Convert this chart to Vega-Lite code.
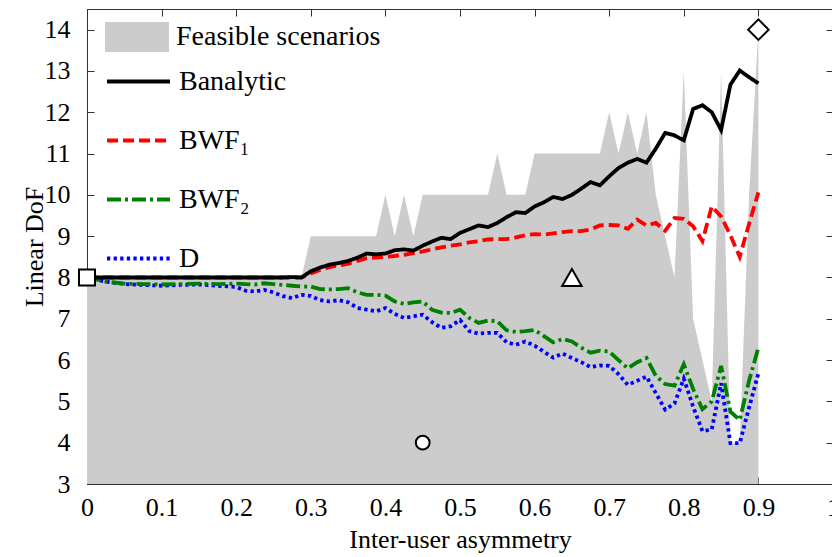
{
  "$schema": "https://vega.github.io/schema/vega-lite/v6.json",
  "width": 746,
  "height": 475,
  "autosize": {"type": "none"},
  "padding": {"left": 87, "top": 9, "right": 0, "bottom": 73},
  "background": "white",
  "datasets": {
    "feasible": [
      {"x": 0, "upper": 8}, {"x": 0.2875, "upper": 8}, {"x": 0.3, "upper": 9}, {"x": 0.3875, "upper": 9},
      {"x": 0.4, "upper": 10}, {"x": 0.4125, "upper": 9}, {"x": 0.425, "upper": 10}, {"x": 0.4375, "upper": 9},
      {"x": 0.45, "upper": 10}, {"x": 0.5375, "upper": 10}, {"x": 0.55, "upper": 11}, {"x": 0.5625, "upper": 10},
      {"x": 0.5875, "upper": 10}, {"x": 0.6, "upper": 11}, {"x": 0.6875, "upper": 11}, {"x": 0.7, "upper": 12},
      {"x": 0.7125, "upper": 11}, {"x": 0.725, "upper": 12}, {"x": 0.7375, "upper": 11}, {"x": 0.75, "upper": 12},
      {"x": 0.7625, "upper": 10}, {"x": 0.775, "upper": 9}, {"x": 0.7875, "upper": 8}, {"x": 0.8, "upper": 13},
      {"x": 0.8125, "upper": 7}, {"x": 0.825, "upper": 6}, {"x": 0.8375, "upper": 5}, {"x": 0.85, "upper": 13},
      {"x": 0.8625, "upper": 4}, {"x": 0.875, "upper": 4}, {"x": 0.8875, "upper": 10}, {"x": 0.9, "upper": 14}
    ],
    "curves": [
      {"x": 0, "Ba": 8, "W1": 8, "W2": 8.0, "D": 8.0},
      {"x": 0.025, "Ba": 8, "W1": 8, "W2": 7.9, "D": 7.9},
      {"x": 0.05, "Ba": 8, "W1": 8, "W2": 7.85, "D": 7.84},
      {"x": 0.075, "Ba": 8, "W1": 8, "W2": 7.84, "D": 7.82},
      {"x": 0.1, "Ba": 8, "W1": 8, "W2": 7.83, "D": 7.8},
      {"x": 0.125, "Ba": 8, "W1": 8, "W2": 7.84, "D": 7.82},
      {"x": 0.15, "Ba": 8, "W1": 8, "W2": 7.85, "D": 7.83},
      {"x": 0.175, "Ba": 8, "W1": 8, "W2": 7.84, "D": 7.8},
      {"x": 0.2, "Ba": 8, "W1": 8, "W2": 7.85, "D": 7.77},
      {"x": 0.2125, "Ba": 8, "W1": 8, "W2": 7.84, "D": 7.68},
      {"x": 0.225, "Ba": 8, "W1": 8, "W2": 7.83, "D": 7.66},
      {"x": 0.2375, "Ba": 8, "W1": 8, "W2": 7.86, "D": 7.7},
      {"x": 0.25, "Ba": 8, "W1": 8, "W2": 7.84, "D": 7.64},
      {"x": 0.2625, "Ba": 8, "W1": 8, "W2": 7.82, "D": 7.55},
      {"x": 0.275, "Ba": 8.01, "W1": 8, "W2": 7.8, "D": 7.5},
      {"x": 0.2875, "Ba": 8.0, "W1": 8.0, "W2": 7.78, "D": 7.58},
      {"x": 0.3, "Ba": 8.15, "W1": 8.1, "W2": 7.78, "D": 7.55},
      {"x": 0.3125, "Ba": 8.24, "W1": 8.18, "W2": 7.72, "D": 7.45},
      {"x": 0.325, "Ba": 8.31, "W1": 8.25, "W2": 7.71, "D": 7.42},
      {"x": 0.3375, "Ba": 8.35, "W1": 8.29, "W2": 7.72, "D": 7.45},
      {"x": 0.35, "Ba": 8.4, "W1": 8.33, "W2": 7.74, "D": 7.4},
      {"x": 0.3625, "Ba": 8.48, "W1": 8.4, "W2": 7.64, "D": 7.26},
      {"x": 0.375, "Ba": 8.58, "W1": 8.47, "W2": 7.58, "D": 7.22},
      {"x": 0.3875, "Ba": 8.56, "W1": 8.48, "W2": 7.58, "D": 7.18},
      {"x": 0.4, "Ba": 8.58, "W1": 8.5, "W2": 7.56, "D": 7.26},
      {"x": 0.4125, "Ba": 8.66, "W1": 8.52, "W2": 7.42, "D": 7.12},
      {"x": 0.425, "Ba": 8.68, "W1": 8.55, "W2": 7.36, "D": 7.02},
      {"x": 0.4375, "Ba": 8.65, "W1": 8.59, "W2": 7.4, "D": 7.06},
      {"x": 0.45, "Ba": 8.77, "W1": 8.63, "W2": 7.42, "D": 7.1},
      {"x": 0.4625, "Ba": 8.87, "W1": 8.68, "W2": 7.22, "D": 6.92},
      {"x": 0.475, "Ba": 8.96, "W1": 8.73, "W2": 7.15, "D": 6.78},
      {"x": 0.4875, "Ba": 8.93, "W1": 8.77, "W2": 7.14, "D": 6.82},
      {"x": 0.5, "Ba": 9.08, "W1": 8.8, "W2": 7.22, "D": 6.97},
      {"x": 0.5125, "Ba": 9.17, "W1": 8.85, "W2": 7.02, "D": 6.7},
      {"x": 0.525, "Ba": 9.26, "W1": 8.88, "W2": 6.9, "D": 6.64},
      {"x": 0.5375, "Ba": 9.22, "W1": 8.92, "W2": 6.96, "D": 6.66},
      {"x": 0.55, "Ba": 9.32, "W1": 8.93, "W2": 6.94, "D": 6.66},
      {"x": 0.5625, "Ba": 9.46, "W1": 8.93, "W2": 6.72, "D": 6.43},
      {"x": 0.575, "Ba": 9.58, "W1": 8.97, "W2": 6.68, "D": 6.37},
      {"x": 0.5875, "Ba": 9.56, "W1": 9.02, "W2": 6.7, "D": 6.45},
      {"x": 0.6, "Ba": 9.72, "W1": 9.05, "W2": 6.73, "D": 6.35},
      {"x": 0.6125, "Ba": 9.82, "W1": 9.04, "W2": 6.58, "D": 6.2},
      {"x": 0.625, "Ba": 9.95, "W1": 9.07, "W2": 6.43, "D": 6.06},
      {"x": 0.6375, "Ba": 9.9, "W1": 9.1, "W2": 6.51, "D": 6.16},
      {"x": 0.65, "Ba": 10.0, "W1": 9.12, "W2": 6.45, "D": 6.05},
      {"x": 0.6625, "Ba": 10.15, "W1": 9.12, "W2": 6.3, "D": 5.95},
      {"x": 0.675, "Ba": 10.31, "W1": 9.16, "W2": 6.18, "D": 5.83},
      {"x": 0.6875, "Ba": 10.23, "W1": 9.26, "W2": 6.23, "D": 5.87},
      {"x": 0.7, "Ba": 10.45, "W1": 9.27, "W2": 6.21, "D": 5.86},
      {"x": 0.7125, "Ba": 10.65, "W1": 9.26, "W2": 6.0, "D": 5.66},
      {"x": 0.725, "Ba": 10.78, "W1": 9.18, "W2": 5.8, "D": 5.4},
      {"x": 0.7375, "Ba": 10.87, "W1": 9.4, "W2": 5.95, "D": 5.5},
      {"x": 0.75, "Ba": 10.78, "W1": 9.26, "W2": 6.05, "D": 5.6},
      {"x": 0.7625, "Ba": 11.12, "W1": 9.32, "W2": 5.62, "D": 5.2},
      {"x": 0.775, "Ba": 11.5, "W1": 9.13, "W2": 5.42, "D": 4.8},
      {"x": 0.7875, "Ba": 11.44, "W1": 9.44, "W2": 5.38, "D": 4.95},
      {"x": 0.8, "Ba": 11.32, "W1": 9.42, "W2": 5.9, "D": 5.55},
      {"x": 0.8125, "Ba": 12.08, "W1": 9.24, "W2": 5.3, "D": 4.87},
      {"x": 0.825, "Ba": 12.17, "W1": 8.88, "W2": 4.81, "D": 4.28},
      {"x": 0.8375, "Ba": 12.0, "W1": 9.72, "W2": 5.0, "D": 4.32},
      {"x": 0.85, "Ba": 11.57, "W1": 9.48, "W2": 5.86, "D": 5.44},
      {"x": 0.8625, "Ba": 12.67, "W1": 9.02, "W2": 4.75, "D": 3.99},
      {"x": 0.875, "Ba": 13.01, "W1": 8.5, "W2": 4.55, "D": 3.99},
      {"x": 0.8875, "Ba": 12.85, "W1": 9.3, "W2": 5.5, "D": 4.85},
      {"x": 0.9, "Ba": 12.7, "W1": 10.06, "W2": 6.3, "D": 5.68}
    ]
  },
  "layer": [
    {
      "data": {"name": "feasible"},
      "mark": {"type": "area", "interpolate": "linear", "opacity": 1},
      "encoding": {
        "x": {
          "field": "x", "type": "quantitative",
          "scale": {"domain": [0, 1], "nice": false, "zero": false},
          "axis": {"orient": "bottom", "title": "Inter-user asymmetry", "values": [0, 0.1, 0.2, 0.3, 0.4, 0.5, 0.6, 0.7, 0.8, 0.9, 1], "format": "~g", "labelPadding": 17, "titlePadding": 6}
        },
        "y": {
          "field": "upper", "type": "quantitative",
          "scale": {"domain": [3, 14.5], "nice": false, "zero": false},
          "axis": {"orient": "left", "title": "Linear DoF", "values": [3, 4, 5, 6, 7, 8, 9, 10, 11, 12, 13, 14], "labelPadding": 24, "titlePadding": -3}
        },
        "y2": {"datum": 3},
        "fill": {
          "datum": "Feasible scenarios",
          "scale": {"range": ["#cccccc"]},
          "legend": {
            "orient": "none", "legendX": 18, "legendY": -4, "title": null,
            "symbolType": "M-1,-0.47H1V0.47H-1Z", "symbolSize": 4096, "symbolStrokeWidth": 0,
            "symbolOpacity": 1, "labelOffset": 7, "padding": 0
          }
        }
      }
    },
    {
      "data": {"name": "curves"},
      "transform": [{"fold": ["D", "W2", "W1", "Ba"], "as": ["series", "value"]}],
      "mark": {"type": "line", "strokeWidth": 3.8, "strokeCap": "butt", "strokeJoin": "miter"},
      "encoding": {
        "x": {"field": "x", "type": "quantitative", "axis": {"orient": "top", "labels": false, "title": null, "values": [0, 0.1, 0.2, 0.3, 0.4, 0.5, 0.6, 0.7, 0.8, 0.9, 1]}},
        "y": {"field": "value", "type": "quantitative", "axis": {"orient": "right", "labels": false, "title": null, "values": [3, 4, 5, 6, 7, 8, 9, 10, 11, 12, 13, 14]}},
        "stroke": {
          "field": "series", "type": "nominal",
          "scale": {"domain": ["Ba", "W1", "W2", "D"], "range": ["#000000", "#ff0000", "#008000", "#0000ff"]},
          "legend": {
            "orient": "none", "legendX": 18, "legendY": 39, "title": null,
            "symbolType": "stroke", "symbolSize": 3969, "symbolStrokeWidth": 3.8,
            "rowPadding": 11, "labelOffset": 7, "padding": 0,
            "labelExpr": "datum.value == 'Ba' ? 'Banalytic' : datum.value == 'W1' ? 'BWF₁' : datum.value == 'W2' ? 'BWF₂' : 'D'"
          }
        },
        "strokeDash": {
          "field": "series", "type": "nominal",
          "scale": {"domain": ["Ba", "W1", "W2", "D"], "range": [[1, 0], [11, 5], [14, 4, 3, 4], [3.3, 3.3]]},
          "legend": {
            "orient": "none", "legendX": 18, "legendY": 39, "title": null,
            "symbolType": "stroke", "symbolSize": 3969, "symbolStrokeWidth": 3.8,
            "rowPadding": 11, "labelOffset": 7, "padding": 0,
            "labelExpr": "datum.value == 'Ba' ? 'Banalytic' : datum.value == 'W1' ? 'BWF₁' : datum.value == 'W2' ? 'BWF₂' : 'D'"
          }
        }
      }
    },
    {
      "data": {"values": [{"x": 0, "y": 8}]},
      "mark": {"type": "point", "shape": "square", "size": 256, "filled": true, "fill": "white", "stroke": "black", "strokeWidth": 2, "opacity": 1},
      "encoding": {"x": {"field": "x", "type": "quantitative", "axis": null}, "y": {"field": "y", "type": "quantitative", "axis": null}}
    },
    {
      "data": {"values": [{"x": 0.45, "y": 4}]},
      "mark": {"type": "point", "shape": "circle", "size": 190, "filled": true, "fill": "white", "stroke": "black", "strokeWidth": 2, "opacity": 1},
      "encoding": {"x": {"field": "x", "type": "quantitative", "axis": null}, "y": {"field": "y", "type": "quantitative", "axis": null}}
    },
    {
      "data": {"values": [{"x": 0.65, "y": 8}]},
      "mark": {"type": "point", "shape": "triangle-up", "size": 380, "filled": true, "fill": "white", "stroke": "black", "strokeWidth": 2, "opacity": 1},
      "encoding": {"x": {"field": "x", "type": "quantitative", "axis": null}, "y": {"field": "y", "type": "quantitative", "axis": null}}
    },
    {
      "data": {"values": [{"x": 0.9, "y": 14}]},
      "mark": {"type": "point", "shape": "diamond", "size": 420, "filled": true, "fill": "white", "stroke": "black", "strokeWidth": 2, "opacity": 1},
      "encoding": {"x": {"field": "x", "type": "quantitative", "axis": null}, "y": {"field": "y", "type": "quantitative", "axis": null}}
    }
  ],
  "resolve": {"axis": {"x": "independent", "y": "independent"}},
  "config": {
    "view": {"stroke": "#333333", "strokeWidth": 1},
    "font": "Liberation Serif",
    "axis": {
      "grid": false, "domainColor": "#333333", "tickColor": "#333333", "tickSize": -7, "tickWidth": 1,
      "labelFont": "Liberation Serif", "labelFontSize": 26, "labelColor": "#000000",
      "titleFont": "Liberation Serif", "titleFontSize": 26, "titleFontWeight": "normal", "titleColor": "#000000",
      "labelFlush": false, "labelOverlap": false, "zindex": 1
    },
    "legend": {
      "labelFont": "Liberation Serif", "labelFontSize": 28, "labelColor": "#000000", "labelLimit": 400
    }
  }
}
